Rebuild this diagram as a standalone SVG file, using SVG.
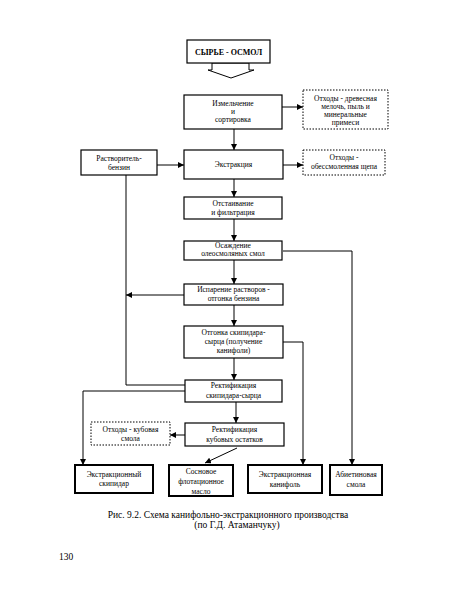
<svg xmlns="http://www.w3.org/2000/svg" width="450" height="604" viewBox="0 0 450 604">
<style>
.box{fill:#fff;stroke:#000;stroke-width:1.2}
.dbox{fill:#fff;stroke:#000;stroke-width:1;stroke-dasharray:1.5 1.5}
.pbox{fill:#fff;stroke:#000;stroke-width:2}
.t{font-family:"Liberation Serif","DejaVu Serif",serif;font-size:7.5px;fill:#000;text-anchor:middle}
.tb{font-family:"Liberation Serif","DejaVu Serif",serif;font-size:8px;font-weight:bold;fill:#000;text-anchor:middle}
.cap{font-family:"Liberation Serif","DejaVu Serif",serif;font-size:9.5px;fill:#000;text-anchor:middle}
.c{fill:none;stroke:#000;stroke-width:1}
</style>
<defs>
<marker id="ah" viewBox="0 0 6 6" refX="6" refY="3" markerWidth="6" markerHeight="6" orient="auto" markerUnits="userSpaceOnUse">
<path d="M0,0 L6,3 L0,6 Z" fill="#000"/>
</marker>
</defs>
<rect width="450" height="604" fill="#fff"/>

<g id="connectors">
<polygon points="212,63 249,63 249,70 254,70 231,78 208,70 212,70" fill="#fff" stroke="#000" stroke-width="1"/>
<line class="c" x1="234" y1="129" x2="234" y2="150" marker-end="url(#ah)"/>
<line class="c" x1="282" y1="107" x2="303" y2="107" marker-end="url(#ah)"/>
<line class="c" x1="157" y1="165" x2="184" y2="165" marker-end="url(#ah)"/>
<line class="c" x1="283" y1="165" x2="303" y2="165" marker-end="url(#ah)"/>
<line class="c" x1="234" y1="179" x2="234" y2="197" marker-end="url(#ah)"/>
<line class="c" x1="234" y1="219" x2="234" y2="241" marker-end="url(#ah)"/>
<line class="c" x1="234" y1="260" x2="234" y2="284" marker-end="url(#ah)"/>
<polyline class="c" points="283,251 352,251 352,465" marker-end="url(#ah)"/>
<line class="c" x1="184" y1="295" x2="126" y2="295" marker-end="url(#ah)"/>
<polyline class="c" points="126,175 126,385 185,385"/>
<line class="c" x1="234" y1="305" x2="234" y2="326" marker-end="url(#ah)"/>
<polyline class="c" points="283,342 303,342 303,465" marker-end="url(#ah)"/>
<line class="c" x1="234" y1="358" x2="234" y2="380" marker-end="url(#ah)"/>
<polyline class="c" points="185,391 83,391 83,465" marker-end="url(#ah)"/>
<line class="c" x1="236" y1="402" x2="236" y2="423" marker-end="url(#ah)"/>
<line class="c" x1="185" y1="435" x2="170" y2="435" marker-end="url(#ah)"/>
<line class="c" x1="237" y1="448" x2="205" y2="463" marker-end="url(#ah)"/>
</g>

<g id="n_syrye">
<rect class="box" x="187" y="40" width="83" height="23"/>
<text class="tb" x="228.5" y="54.5">СЫРЬЕ - ОСМОЛ</text>
</g>
<g id="n_izmelchenie">
<rect class="box" x="184" y="95" width="98" height="34"/>
<text class="t" x="233" y="106">Измельчение</text>
<text class="t" x="233" y="114">и</text>
<text class="t" x="233" y="122">сортировка</text>
</g>
<g id="n_othody1">
<rect class="dbox" x="303" y="90" width="85" height="39"/>
<text class="t" x="345.5" y="101">Отходы - древесная</text>
<text class="t" x="345.5" y="109">мелочь, пыль и</text>
<text class="t" x="345.5" y="117">минеральные</text>
<text class="t" x="345.5" y="125">примеси</text>
</g>
<g id="n_rastvoritel">
<rect class="box" x="81" y="150" width="76" height="25"/>
<text class="t" x="119" y="161">Растворитель-</text>
<text class="t" x="119" y="170">бензин</text>
</g>
<g id="n_ekstrakciya">
<rect class="box" x="184" y="150" width="99" height="29"/>
<text class="t" x="233.5" y="167">Экстракция</text>
</g>
<g id="n_othody2">
<rect class="dbox" x="303" y="150" width="82" height="25"/>
<text class="t" x="344" y="160">Отходы -</text>
<text class="t" x="344" y="169">обессмоленная щепа</text>
</g>
<g id="n_otstaivanie">
<rect class="box" x="184" y="197" width="98" height="22"/>
<text class="t" x="233" y="206">Отстаивание</text>
<text class="t" x="233" y="215">и фильтрация</text>
</g>
<g id="n_osazhdenie">
<rect class="box" x="184" y="241" width="98" height="19"/>
<text class="t" x="233" y="248">Осаждение</text>
<text class="t" x="233" y="256">олеосмоляных смол</text>
</g>
<g id="n_isparenie">
<rect class="box" x="184" y="284" width="99" height="21"/>
<text class="t" x="233.5" y="292">Испарение растворов -</text>
<text class="t" x="233.5" y="301">отгонка бензина</text>
</g>
<g id="n_otgonka">
<rect class="box" x="184" y="326" width="99" height="32"/>
<text class="t" x="233.5" y="335">Отгонка скипидара-</text>
<text class="t" x="233.5" y="344">сырца (получение</text>
<text class="t" x="233.5" y="353">канифоли)</text>
</g>
<g id="n_rekt1">
<rect class="box" x="185" y="380" width="97" height="22"/>
<text class="t" x="233.5" y="388">Ректификация</text>
<text class="t" x="233.5" y="398">скипидара-сырца</text>
</g>
<g id="n_rekt2">
<rect class="box" x="185" y="423" width="99" height="23"/>
<text class="t" x="234.5" y="432">Ректификация</text>
<text class="t" x="234.5" y="442">кубовых остатков</text>
</g>
<g id="n_othody3">
<rect class="dbox" x="91" y="422" width="79" height="23"/>
<text class="t" x="130.5" y="432">Отходы - кубовая</text>
<text class="t" x="130.5" y="441">смола</text>
</g>
<g id="n_skipidar">
<rect class="pbox" x="75" y="465" width="78" height="28"/>
<text class="t" x="114" y="477">Экстракционный</text>
<text class="t" x="114" y="486">скипидар</text>
</g>
<g id="n_maslo">
<rect class="pbox" x="169" y="465" width="64" height="31"/>
<text class="t" x="201" y="474">Сосновое</text>
<text class="t" x="201" y="484">флотационное</text>
<text class="t" x="201" y="494">масло</text>
</g>
<g id="n_kanifol">
<rect class="pbox" x="248" y="465" width="74" height="28"/>
<text class="t" x="285" y="477">Экстракционная</text>
<text class="t" x="285" y="487">канифоль</text>
</g>
<g id="n_abiet">
<rect class="pbox" x="330" y="465" width="52" height="30"/>
<text class="t" x="356" y="477">Абиетиновая</text>
<text class="t" x="356" y="487">смола</text>
</g>

<g id="caption">
<text class="cap" x="228" y="518">Рис. 9.2. Схема канифольно-экстракционного производства</text>
<text class="cap" x="237" y="528">(по Г.Д. Атаманчуку)</text>
<text class="cap" x="66" y="560">130</text>
</g>
</svg>
